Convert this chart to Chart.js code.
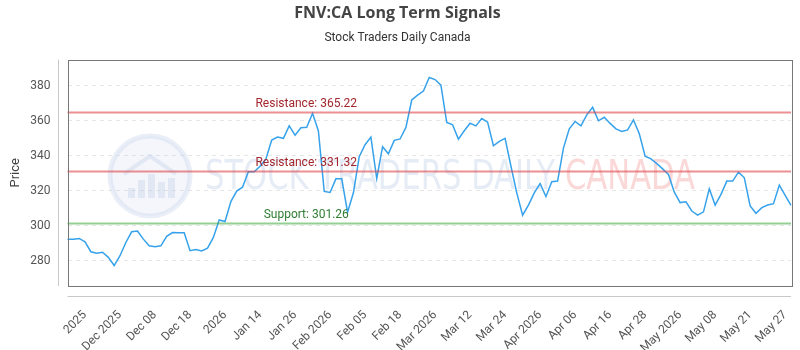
<!DOCTYPE html>
<html>
<head>
<meta charset="utf-8">
<title>FNV:CA Long Term Signals</title>
<script src="https://cdn.jsdelivr.net/npm/chart.js@4.4.1/dist/chart.umd.min.js"></script>
<style>
  html, body { margin: 0; padding: 0; background: #fff; }
  #wrap { width: 800px; height: 350px; }
</style>
</head>
<body>
<div id="wrap"><canvas id="chart"></canvas></div>
<script>
// daily closes
const prices = [
  292.3, 292.3, 292.7, 290.8, 285.1, 284.2, 284.8, 281.9, 277.2, 282.8,
  290.4, 296.5, 296.9, 292.3, 288.5, 288.0, 288.5, 293.9, 296.1, 296.0,
  296.0, 285.7, 286.3, 285.5, 287.2, 293.3, 303.3, 302.4, 313.8, 319.8,
  322.0, 330.8, 330.8, 334.0, 338.0, 349.0, 350.7, 350.0, 357.1, 351.8,
  356.0, 356.3, 364.3, 354.2, 319.6, 319.0, 326.8, 326.8, 307.7, 318.8,
  339.5, 346.3, 350.7, 327.0, 345.2, 341.1, 348.8, 349.6, 356.2, 371.9,
  374.7, 377.0, 384.8, 383.6, 380.4, 359.0, 357.7, 349.5, 354.3, 358.6,
  357.1, 361.3, 359.2, 345.7, 348.2, 349.9, 334.0, 318.8, 306.0, 311.8,
  318.8, 324.1, 316.6, 325.1, 325.5, 344.4, 355.4, 359.6, 357.1, 363.4,
  367.7, 360.0, 362.0, 358.5, 355.4, 353.9, 354.8, 360.5, 352.6, 339.7,
  338.2, 335.5, 332.5, 329.3, 319.2, 313.2, 313.7, 308.4, 306.0, 307.9,
  321.1, 311.8, 317.9, 325.5, 325.5, 330.6, 327.4, 311.3, 307.1, 310.3,
  311.8, 312.6, 323.2, 317.3, 311.6
];

const tickLabels = [
  "2025", "Dec 2025", "Dec 08", "Dec 18", "2026", "Jan 14", "Jan 26",
  "Feb 2026", "Feb 05", "Feb 18", "Mar 2026", "Mar 12", "Mar 24",
  "Apr 2026", "Apr 06", "Apr 16", "Apr 28", "May 2026", "May 08",
  "May 21", "May 27"
];
const firstTick = 3;
const tickStep = 6;

const yTicks = [280, 300, 320, 340, 360, 380];

const levels = [
  { label: "Resistance: 365.22", value: 365.22, line: "rgba(221,70,75,0.6)", text: "#a3262c" },
  { label: "Resistance: 331.32", value: 331.32, line: "rgba(221,70,75,0.6)", text: "#a3262c" },
  { label: "Support: 301.26", value: 301.26, line: "rgba(60,170,60,0.55)", text: "#2f7d32" }
];

const categories = prices.map((_, i) =>
  (i - firstTick) % tickStep === 0 ? tickLabels[(i - firstTick) / tickStep] || "" : "");

Chart.defaults.font.family = 'Roboto, "Open Sans", sans-serif';
Chart.defaults.color = "#666";

// faint logo + name behind the line
const watermark = {
  id: "watermark",
  beforeDatasetsDraw(chart) {
    const ctx = chart.ctx;
    ctx.save();
    const cx = 150, cy = 176;
    ctx.beginPath();
    ctx.arc(cx, cy, 40, 0, Math.PI * 2);
    ctx.fillStyle = "rgba(205,215,235,0.22)";
    ctx.fill();
    ctx.lineWidth = 5;
    ctx.strokeStyle = "rgba(200,212,235,0.4)";
    ctx.stroke();
    ctx.fillStyle = "rgba(190,205,230,0.35)";
    [[-22, 10], [-12, 18], [-2, 24], [8, 16], [18, 20]].forEach(([dx, h]) => {
      ctx.fillRect(cx + dx, cy + 22 - h, 7, h);
    });
    ctx.beginPath();
    ctx.moveTo(cx - 26, cy - 2);
    ctx.lineTo(cx, cy - 20);
    ctx.lineTo(cx + 26, cy - 2);
    ctx.lineWidth = 4;
    ctx.strokeStyle = "rgba(190,205,230,0.35)";
    ctx.stroke();

    ctx.font = '40px "DejaVu Sans Condensed", sans-serif';
    ctx.textBaseline = "middle";
    const a = "STOCK TRADERS DAILY ";
    const b = "CANADA";
    const wa = ctx.measureText(a).width;
    const wb = ctx.measureText(b).width;
    const sx = (695 - 205) / (wa + wb);
    ctx.translate(205, 179);
    ctx.scale(sx, 1);
    ctx.fillStyle = "rgba(190,205,230,0.38)";
    ctx.fillText(a, 0, 0);
    ctx.fillStyle = "rgba(240,125,125,0.3)";
    ctx.fillText(b, wa, 0);
    ctx.restore();
  }
};

// support / resistance lines, plot frame and detached axis lines
const levelLines = {
  id: "levelLines",
  afterDatasetsDraw(chart) {
    const { ctx, chartArea: a, scales } = chart;
    ctx.save();
    levels.forEach(l => {
      const y = Math.round(scales.y.getPixelForValue(l.value)) + 0.5;
      ctx.beginPath();
      ctx.moveTo(a.left, y);
      ctx.lineTo(a.right, y);
      ctx.lineWidth = 2;
      ctx.strokeStyle = l.line;
      ctx.stroke();
      ctx.font = '12px Roboto, sans-serif';
      ctx.fillStyle = l.text;
      ctx.textAlign = "center";
      ctx.textBaseline = "middle";
      ctx.fillText(l.label, a.left + (a.right - a.left) * 0.33, y - 9);
    });
    ctx.restore();
  },
  afterDraw(chart) {
    const { ctx, chartArea: a } = chart;
    ctx.save();
    ctx.lineWidth = 1;
    ctx.strokeStyle = "#777";
    ctx.strokeRect(Math.round(a.left) + 0.5, Math.round(a.top) + 0.5,
      Math.round(a.right - a.left), Math.round(a.bottom - a.top));
    ctx.strokeStyle = "#c8c8c8";
    ctx.beginPath();
    ctx.moveTo(Math.round(a.left) - 9.5, a.top);
    ctx.lineTo(Math.round(a.left) - 9.5, a.bottom);
    ctx.moveTo(a.left, Math.round(a.bottom) + 10.5);
    ctx.lineTo(a.right, Math.round(a.bottom) + 10.5);
    ctx.stroke();
    ctx.restore();
  }
};

new Chart(document.getElementById("chart"), {
  type: "line",
  data: {
    labels: categories,
    datasets: [{
      label: "FNV:CA",
      data: prices,
      borderColor: "#36a2eb",
      borderWidth: 1.5,
      pointRadius: 0,
      tension: 0,
      fill: false
    }]
  },
  options: {
    responsive: true,
    maintainAspectRatio: false,
    animation: false,
    layout: { padding: { left: 4, right: 9, top: 0, bottom: 0 } },
    plugins: {
      legend: { display: false },
      tooltip: { enabled: false },
      title: {
        display: true,
        text: "FNV:CA Long Term Signals",
        color: "#444",
        font: { family: '"Open Sans", sans-serif', size: 16, weight: "bold" },
        padding: { top: 4, bottom: 6 }
      },
      subtitle: {
        display: true,
        text: "Stock Traders Daily Canada",
        color: "#333",
        font: { size: 12 },
        padding: { top: 2, bottom: 14 }
      }
    },
    scales: {
      x: {
        offset: false,
        grid: { display: false, drawTicks: false },
        border: { display: false },
        afterBuildTicks(axis) {
          axis.ticks = categories
            .map((c, i) => ({ value: i, label: c }))
            .filter(t => t.label !== "");
        },
        afterFit(axis) {
          axis.paddingLeft = 0;
          axis.paddingRight = 0;
          axis.height = 64;
        },
        ticks: {
          autoSkip: false,
          minRotation: 45,
          maxRotation: 45,
          padding: 22,
          color: "#555",
          font: { size: 12 },
          callback(v) { return categories[v]; }
        }
      },
      y: {
        min: 265.5,
        max: 395,
        afterBuildTicks(axis) {
          axis.ticks = yTicks.map(v => ({ value: v }));
        },
        afterFit(axis) {
          axis.width = 63.5;
        },
        grid: {
          color: "#e6e6e6",
          drawTicks: false
        },
        border: { display: false, dash: [4, 4] },
        ticks: { padding: 17, color: "#555", font: { size: 12 } },
        title: {
          display: true,
          text: "Price",
          color: "#444",
          font: { size: 13 },
          padding: { bottom: 6 }
        }
      }
    }
  },
  plugins: [watermark, levelLines]
});
</script>
</body>
</html>
